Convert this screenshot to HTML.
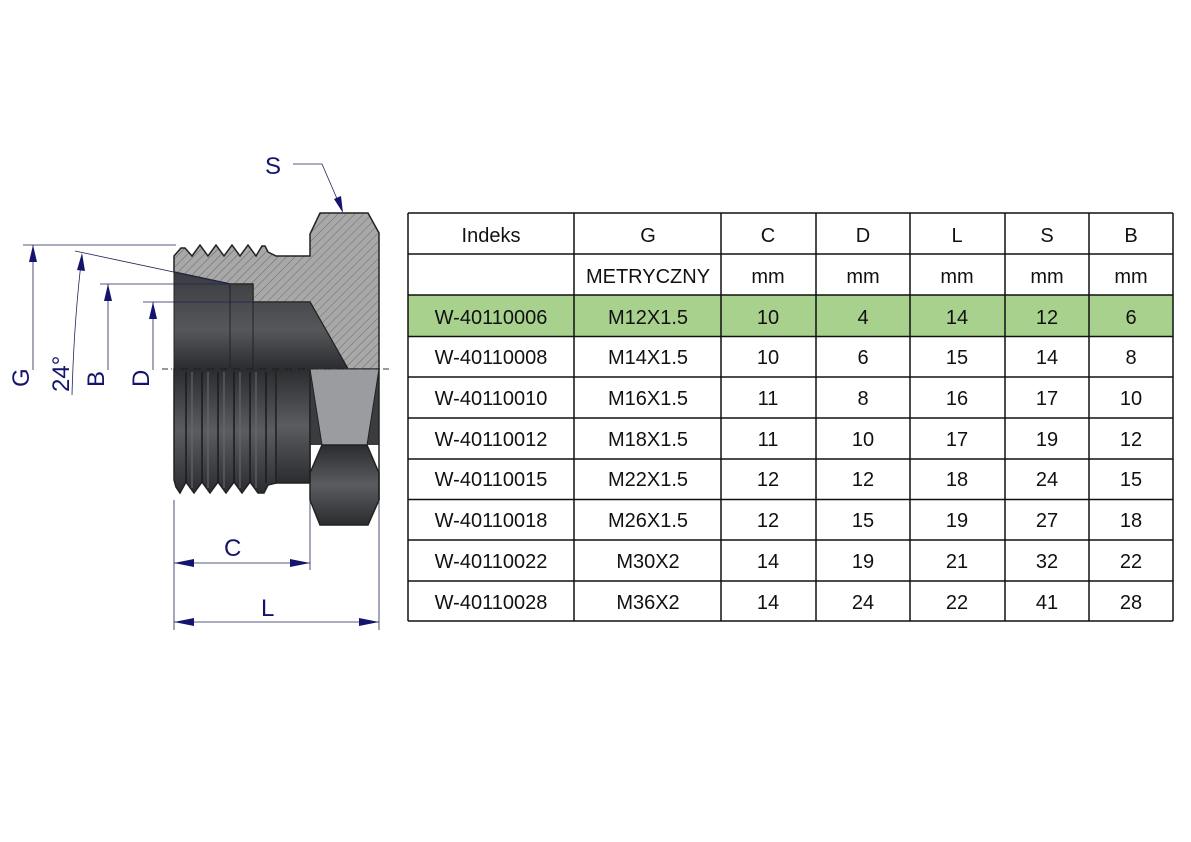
<!DOCTYPE html>
<html><head><meta charset="utf-8"><style>
body{margin:0;width:1191px;height:842px;background:#fff;overflow:hidden}
svg{position:absolute;left:0;top:0}
text{font-family:"Liberation Sans",sans-serif}
</style></head><body>
<svg width="1191" height="842" viewBox="0 0 1191 842">
<defs>
<pattern id="h" patternUnits="userSpaceOnUse" width="6" height="6" patternTransform="rotate(45)">
<rect width="6" height="6" fill="#a8a8a8"/><line x1="0" y1="0" x2="0" y2="6" stroke="#6a6a6a" stroke-width="1"/>
</pattern>
<linearGradient id="dk" x1="0" y1="0" x2="0" y2="1">
<stop offset="0" stop-color="#2a2c30"/><stop offset="0.5" stop-color="#5a5c60"/><stop offset="1" stop-color="#2a2c30"/>
</linearGradient>
<linearGradient id="dk2" x1="0" y1="0" x2="0" y2="1">
<stop offset="0" stop-color="#3a3c40"/><stop offset="0.6" stop-color="#55575b"/><stop offset="1" stop-color="#2a2c30"/>
</linearGradient>
</defs>
<!-- upper section (hatched) -->
<path d="M174,256 L181,248 L185,248 L192,256 L200,245 L208,256 L216,245 L224,256 L232,245 L240,256 L248,245 L256,256 L262,246 L265,246 L268,252 L276,256 L310,256 L310,234 L320,213 L368,213 L379,233 L379,369 L348,369 L310,302 L253,302 L253,284 L230,284 L174,272 Z" fill="url(#h)" stroke="#222" stroke-width="1.5"/>
<!-- bore dark upper -->
<path d="M174,272 L230,284 L253,284 L253,302 L310,302 L348,369 L174,369 Z" fill="url(#dk2)" stroke="#222" stroke-width="1"/>
<line x1="230" y1="284" x2="230" y2="369" stroke="#222"/>
<line x1="253" y1="302" x2="253" y2="369" stroke="#222"/>
<!-- lower threaded body -->
<path d="M174,369 L276,369 L276,483 L268,485 L264,493 L258,493 L250,482 L242,493 L234,482 L226,493 L218,482 L210,493 L202,482 L194,493 L186,482 L180,493 L176,487 L174,480 Z" fill="url(#dk)" stroke="#222" stroke-width="1.5"/>
<g stroke="#1a1a1a" stroke-width="1.5">
<line x1="186" y1="372" x2="186" y2="483"/><line x1="202" y1="372" x2="202" y2="483"/><line x1="218" y1="372" x2="218" y2="483"/><line x1="234" y1="372" x2="234" y2="483"/><line x1="250" y1="372" x2="250" y2="483"/><line x1="266" y1="372" x2="266" y2="483"/>
</g>
<g stroke="#6a6c70" stroke-width="1">
<line x1="192" y1="372" x2="192" y2="488"/><line x1="208" y1="372" x2="208" y2="488"/><line x1="224" y1="372" x2="224" y2="488"/><line x1="240" y1="372" x2="240" y2="488"/><line x1="256" y1="372" x2="256" y2="488"/>
</g>
<rect x="276" y="369" width="34" height="114" fill="url(#dk)" stroke="#222" stroke-width="1.5"/>
<!-- hex lower -->
<path d="M310,369 L379,369 L379,445 L310,445 Z" fill="#3a3c40"/>
<path d="M310,369 L379,369 L367,445 L322,445 Z" fill="#9a9ca0" stroke="#222" stroke-width="1"/>
<path d="M322,445 L367,445 L379,473 L379,500 L368,525 L320,525 L310,500 L310,473 Z" fill="url(#dk)" stroke="#222" stroke-width="1.5"/>
<line x1="310" y1="369" x2="310" y2="483" stroke="#222" stroke-width="1.5"/>
<line x1="379" y1="369" x2="379" y2="500" stroke="#222" stroke-width="1.5"/>
<!-- axis -->
<line x1="162" y1="369" x2="392" y2="369" stroke="#333" stroke-width="1" stroke-dasharray="6,3,1,3"/>
<!-- dimension lines -->
<g stroke="#222256" stroke-width="0.8" fill="none">
<line x1="23" y1="245" x2="176" y2="245"/>
<line x1="33" y1="245" x2="33" y2="370"/>
<line x1="75" y1="251" x2="230" y2="284"/>
<path d="M82,255 Q74,320 72,395"/>
<line x1="100" y1="284" x2="230" y2="284"/>
<line x1="108" y1="284" x2="108" y2="370"/>
<line x1="143" y1="302" x2="253" y2="302"/>
<line x1="153" y1="302" x2="153" y2="370"/>
<line x1="174" y1="500" x2="174" y2="630"/>
<line x1="310" y1="500" x2="310" y2="570"/>
<line x1="379" y1="500" x2="379" y2="630"/>
<line x1="174" y1="563" x2="310" y2="563"/>
<line x1="174" y1="622" x2="379" y2="622"/>
<polyline points="293,164 322,164 341,208"/>
</g>
<g fill="#14146e">
<path d="M33,245 L29,262 L37,262Z"/>
<path d="M82,253 L77,270 L85,271Z"/>
<path d="M108,284 L104,301 L112,301Z"/>
<path d="M153,302 L149,319 L157,319Z"/>
<path d="M174,563 L194,559 L194,567Z M310,563 L290,559 L290,567Z"/>
<path d="M174,622 L194,618 L194,626Z M379,622 L359,618 L359,626Z"/>
<path d="M343,213 L334,199 L341,196Z"/>
</g>
<g fill="#14146e" font-size="24">
<text x="265" y="174">S</text>
<text x="224" y="556">C</text>
<text x="261" y="616">L</text>
<text transform="translate(29,387) rotate(-90)">G</text>
<text transform="translate(69,392) rotate(-90)">24°</text>
<text transform="translate(104,387) rotate(-90)">B</text>
<text transform="translate(149,387) rotate(-90)">D</text>
</g>
<!-- table -->
<rect x="408" y="295" width="765" height="42" fill="#a9d18e"/>
<g stroke="#111" stroke-width="1.5">
<line x1="408" y1="213" x2="1173" y2="213"/>
<line x1="408" y1="254" x2="1173" y2="254"/>
<line x1="408" y1="295" x2="1173" y2="295"/>
<line x1="408" y1="336.5" x2="1173" y2="336.5"/>
<line x1="408" y1="377" x2="1173" y2="377"/>
<line x1="408" y1="418" x2="1173" y2="418"/>
<line x1="408" y1="459" x2="1173" y2="459"/>
<line x1="408" y1="499.5" x2="1173" y2="499.5"/>
<line x1="408" y1="540" x2="1173" y2="540"/>
<line x1="408" y1="581" x2="1173" y2="581"/>
<line x1="408" y1="621" x2="1173" y2="621"/>
<line x1="408" y1="213" x2="408" y2="621"/>
<line x1="574" y1="213" x2="574" y2="621"/>
<line x1="721" y1="213" x2="721" y2="621"/>
<line x1="816" y1="213" x2="816" y2="621"/>
<line x1="910" y1="213" x2="910" y2="621"/>
<line x1="1005" y1="213" x2="1005" y2="621"/>
<line x1="1089" y1="213" x2="1089" y2="621"/>
<line x1="1173" y1="213" x2="1173" y2="621"/>
</g>
<g font-size="20" fill="#111" text-anchor="middle">
<text x="491" y="242">Indeks</text><text x="648" y="242">G</text><text x="768" y="242">C</text><text x="863" y="242">D</text><text x="957" y="242">L</text><text x="1047" y="242">S</text><text x="1131" y="242">B</text>
<text x="648" y="283">METRYCZNY</text><text x="768" y="283">mm</text><text x="863" y="283">mm</text><text x="957" y="283">mm</text><text x="1047" y="283">mm</text><text x="1131" y="283">mm</text>
<text x="491" y="324">W-40110006</text><text x="648" y="324">M12X1.5</text><text x="768" y="324">10</text><text x="863" y="324">4</text><text x="957" y="324">14</text><text x="1047" y="324">12</text><text x="1131" y="324">6</text>
<text x="491" y="364">W-40110008</text><text x="648" y="364">M14X1.5</text><text x="768" y="364">10</text><text x="863" y="364">6</text><text x="957" y="364">15</text><text x="1047" y="364">14</text><text x="1131" y="364">8</text>
<text x="491" y="405">W-40110010</text><text x="648" y="405">M16X1.5</text><text x="768" y="405">11</text><text x="863" y="405">8</text><text x="957" y="405">16</text><text x="1047" y="405">17</text><text x="1131" y="405">10</text>
<text x="491" y="446">W-40110012</text><text x="648" y="446">M18X1.5</text><text x="768" y="446">11</text><text x="863" y="446">10</text><text x="957" y="446">17</text><text x="1047" y="446">19</text><text x="1131" y="446">12</text>
<text x="491" y="486">W-40110015</text><text x="648" y="486">M22X1.5</text><text x="768" y="486">12</text><text x="863" y="486">12</text><text x="957" y="486">18</text><text x="1047" y="486">24</text><text x="1131" y="486">15</text>
<text x="491" y="527">W-40110018</text><text x="648" y="527">M26X1.5</text><text x="768" y="527">12</text><text x="863" y="527">15</text><text x="957" y="527">19</text><text x="1047" y="527">27</text><text x="1131" y="527">18</text>
<text x="491" y="568">W-40110022</text><text x="648" y="568">M30X2</text><text x="768" y="568">14</text><text x="863" y="568">19</text><text x="957" y="568">21</text><text x="1047" y="568">32</text><text x="1131" y="568">22</text>
<text x="491" y="609">W-40110028</text><text x="648" y="609">M36X2</text><text x="768" y="609">14</text><text x="863" y="609">24</text><text x="957" y="609">22</text><text x="1047" y="609">41</text><text x="1131" y="609">28</text>
</g>
</svg>
</body></html>
